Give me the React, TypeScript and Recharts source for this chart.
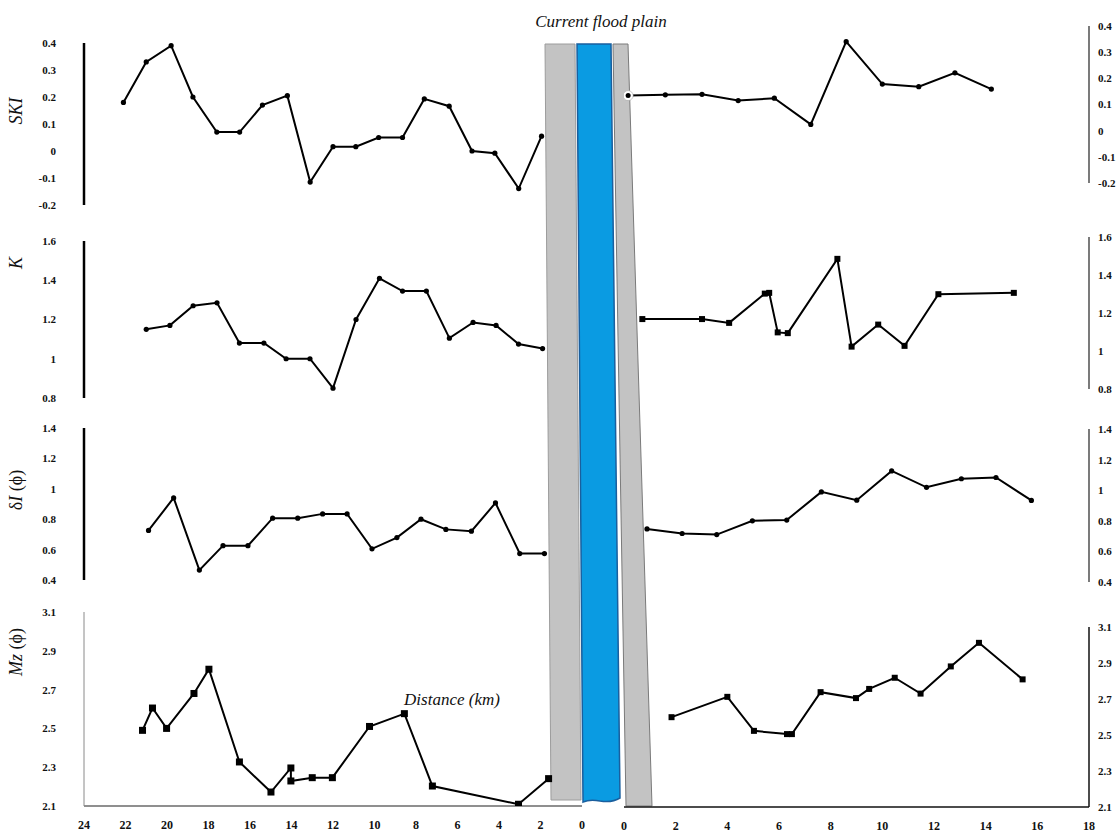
import React from 'react';
import { LineChart, Line, XAxis, YAxis } from 'recharts';

const W = 1118;
const H = 837;

// ---------- Data (distance from the river in km, value) ----------
// Left bank
const leftSkiKm = [22.1, 21.0, 19.8, 18.75, 17.6, 16.5, 15.4, 14.2, 13.1, 12.0, 10.9, 9.8, 8.65, 7.6, 6.4, 5.3, 4.2, 3.05, 1.95];
const leftSkiVal = [0.18, 0.33, 0.39, 0.2, 0.07, 0.07, 0.17, 0.205, -0.115, 0.016, 0.016, 0.05, 0.05, 0.193, 0.166, 0.0, -0.008, -0.139, 0.055];

const leftKKm = [21.0, 19.86, 18.74, 17.59, 16.51, 15.33, 14.26, 13.11, 12.0, 10.89, 9.76, 8.65, 7.5, 6.39, 5.25, 4.14, 3.06, 1.9];
const leftKVal = [1.15, 1.17, 1.27, 1.285, 1.08, 1.08, 1.0, 1.0, 0.85, 1.2, 1.41, 1.345, 1.345, 1.105, 1.185, 1.17, 1.075, 1.052];

const leftSortKm = [20.89, 19.68, 18.44, 17.3, 16.1, 14.91, 13.7, 12.5, 11.32, 10.12, 8.92, 7.76, 6.56, 5.33, 4.17, 3.0, 1.81];
const leftSortVal = [0.726, 0.94, 0.465, 0.626, 0.626, 0.807, 0.807, 0.835, 0.835, 0.605, 0.679, 0.8, 0.733, 0.721, 0.907, 0.574, 0.574];

const leftMzKm = [21.18, 20.7, 20.02, 18.7, 17.98, 16.51, 14.99, 14.03, 14.03, 13.0, 12.03, 10.24, 8.56, 7.21, 3.06, 1.61];
const leftMzVal = [2.49, 2.605, 2.5, 2.68, 2.805, 2.327, 2.172, 2.296, 2.229, 2.246, 2.246, 2.51, 2.576, 2.203, 2.109, 2.241];

// Right bank
const rightSkiKm = [0.16, 1.6, 3.02, 4.42, 5.82, 7.23, 8.6, 10.0, 11.41, 12.81, 14.22];
const rightSkiVal = [0.134, 0.137, 0.139, 0.115, 0.124, 0.024, 0.34, 0.178, 0.168, 0.221, 0.159];

const rightKKm = [0.71, 3.02, 4.07, 5.45, 5.62, 5.95, 6.34, 8.26, 8.81, 9.84, 10.86, 12.17, 15.09];
const rightKVal = [1.168, 1.168, 1.148, 1.302, 1.306, 1.098, 1.094, 1.485, 1.023, 1.139, 1.027, 1.299, 1.306];

const rightSortKm = [0.89, 2.25, 3.59, 4.97, 6.3, 7.64, 9.01, 10.36, 11.71, 13.06, 14.4, 15.77];
const rightSortVal = [0.747, 0.717, 0.71, 0.8, 0.805, 0.989, 0.935, 1.126, 1.019, 1.075, 1.083, 0.933];

const rightMzKm = [1.84, 4.0, 5.03, 6.31, 6.5, 7.61, 8.98, 9.49, 10.48, 11.48, 12.65, 13.74, 15.43];
const rightMzVal = [2.599, 2.712, 2.523, 2.505, 2.505, 2.738, 2.705, 2.756, 2.818, 2.73, 2.881, 3.012, 2.809];

// Tick labels
const leftDistanceTicks = [0, 2, 4, 6, 8, 10, 12, 14, 16, 18, 20, 22, 24];
const rightDistanceTicks = [0, 2, 4, 6, 8, 10, 12, 14, 16, 18];
const skiTicks = [-0.2, -0.1, 0, 0.1, 0.2, 0.3, 0.4];
const kTicks = [0.8, 1, 1.2, 1.4, 1.6];
const sortTicks = [0.4, 0.6, 0.8, 1, 1.2, 1.4];
const mzTicks = [2.1, 2.3, 2.5, 2.7, 2.9, 3.1];

const toRows = (km: number[], v: number[]) => km.map((x, i) => ({ x, y: v[i] }));

type Box = { left: number; right: number; top: number; bottom: number };

const SERIF = '"Liberation Serif", "Times New Roman", serif';
const tickStyle = { fontSize: 11, fontWeight: 700, fontFamily: SERIF, fill: '#111' };
const xTickStyle = { fontSize: 12, fontWeight: 700, fontFamily: SERIF, fill: '#111' };
const fmt = (v: number) => String(Math.round(v * 10) / 10);

const Y_W = 40;
const X_H = 30;

function Panel(props: {
  rows: { x: number; y: number }[];
  side: 'left' | 'right';
  box: Box;
  yDomain: [number, number];
  yTicks: number[];
  showX?: boolean;
  marker: 'circle' | 'square';
  markerSize?: number;
  axisColor: string;
  axisWidth: number;
  xAxisColor?: string;
  haloFirst?: boolean;
}) {
  const { rows, side, box, yDomain, yTicks, showX, marker, markerSize = 6, axisColor, axisWidth, xAxisColor = '#000', haloFirst } = props;
  const xDomain: [number, number] = side === 'left' ? [0, 24] : [0, 18];
  const xTicks = side === 'left' ? leftDistanceTicks : rightDistanceTicks;
  const renderDot = (p: any) => {
    const { cx, cy, index } = p;
    if (cx == null || cy == null) return <g key={`d${index}`} />;
    if (marker === 'square') {
      return <rect key={`d${index}`} x={cx - markerSize / 2} y={cy - markerSize / 2} width={markerSize} height={markerSize} fill="#000" />;
    }
    if (haloFirst && index === 0) {
      return (
        <g key={`d${index}`}>
          <circle cx={cx} cy={cy} r={5} fill="#fff" stroke="#999" strokeWidth={0.5} />
          <circle cx={cx} cy={cy} r={2.5} fill="#000" />
        </g>
      );
    }
    return <circle key={`d${index}`} cx={cx} cy={cy} r={2.6} fill="#000" />;
  };
  const margin = {
    top: box.top,
    bottom: H - box.bottom - (showX ? X_H : 0),
    left: side === 'left' ? box.left - Y_W : box.left,
    right: side === 'right' ? W - box.right - Y_W : W - box.right,
  };
  return (
    <div style={{ position: 'absolute', left: 0, top: 0 }}>
      <LineChart width={W} height={H} data={rows} margin={margin}>
        <XAxis
          type="number"
          dataKey="x"
          domain={xDomain}
          ticks={xTicks}
          interval={0}
          reversed={side === 'left'}
          hide={!showX}
          height={X_H}
          tickLine={false}
          tickMargin={8}
          axisLine={{ stroke: xAxisColor, strokeWidth: 1.5 }}
          tick={xTickStyle}
          allowDataOverflow
        />
        <YAxis
          type="number"
          domain={yDomain}
          ticks={yTicks}
          interval={0}
          orientation={side}
          width={Y_W}
          tickLine={false}
          tickMargin={side === 'left' ? 22 : 3}
          tickFormatter={fmt}
          axisLine={{ stroke: axisColor, strokeWidth: axisWidth }}
          tick={tickStyle}
          allowDataOverflow
        />
        <Line
          type="linear"
          dataKey="y"
          stroke="#000"
          strokeWidth={2}
          dot={renderDot}
          activeDot={false}
          isAnimationActive={false}
        />
      </LineChart>
    </div>
  );
}

const LEFT_X = 84;
const LEFT_END = 582;
const RIGHT_X = 624;
const RIGHT_END = 1089;

function River() {
  return (
    <svg width={W} height={H} style={{ position: 'absolute', left: 0, top: 0 }}>
      <polygon points="545,44 575,44 581,800 551,800" fill="#c3c3c3" stroke="#9c9c9c" strokeWidth={1} />
      <path
        d="M577,44 L611,44 L620,798 Q612,803 600,801 Q590,799 583,802 Z"
        fill="#0a9be2"
        stroke="#1a5f9e"
        strokeWidth={1.5}
      />
      <polygon points="613,44 628,44 652,806 626,806" fill="#c3c3c3" stroke="#7a7a7a" strokeWidth={1} />
    </svg>
  );
}

function Labels() {
  const t = { fontFamily: SERIF, fill: '#111' } as const;
  return (
    <svg width={W} height={H} style={{ position: 'absolute', left: 0, top: 0, pointerEvents: 'none' }}>
      <text x={601} y={27} textAnchor="middle" fontSize={17} fontStyle="italic" {...t}>Current flood plain</text>
      <text x={452} y={705} textAnchor="middle" fontSize={17} fontStyle="italic" {...t}>Distance (km)</text>
      <text x={22} y={111} textAnchor="middle" fontSize={18} fontStyle="italic" transform="rotate(-90 22 111)" {...t}>SKI</text>
      <text x={22} y={263} textAnchor="middle" fontSize={18} fontStyle="italic" transform="rotate(-90 22 263)" {...t}>K</text>
      <text x={22} y={490} textAnchor="middle" fontSize={18} transform="rotate(-90 22 490)" {...t}>
        δ<tspan fontStyle="italic">I</tspan> (ϕ)
      </text>
      <text x={22} y={652} textAnchor="middle" fontSize={18} transform="rotate(-90 22 652)" {...t}>
        <tspan fontStyle="italic">Mz</tspan> (ϕ)
      </text>
    </svg>
  );
}

export default function App() {
  return (
    <div style={{ position: 'absolute', left: 0, top: 0, width: W, height: H, background: '#fff', overflow: 'hidden' }}>
      <River />
      <Panel rows={toRows(leftSkiKm, leftSkiVal)} side="left" box={{ left: LEFT_X, right: LEFT_END, top: 43, bottom: 205 }}
        yDomain={[-0.2, 0.4]} yTicks={skiTicks} marker="circle" axisColor="#000" axisWidth={2.5} />
      <Panel rows={toRows(leftKKm, leftKVal)} side="left" box={{ left: LEFT_X, right: LEFT_END, top: 241, bottom: 398 }}
        yDomain={[0.8, 1.6]} yTicks={kTicks} marker="circle" axisColor="#000" axisWidth={2.5} />
      <Panel rows={toRows(leftSortKm, leftSortVal)} side="left" box={{ left: LEFT_X, right: LEFT_END, top: 428, bottom: 580 }}
        yDomain={[0.4, 1.4]} yTicks={sortTicks} marker="circle" axisColor="#000" axisWidth={2.5} />
      <Panel rows={toRows(leftMzKm, leftMzVal)} side="left" box={{ left: LEFT_X, right: LEFT_END, top: 612, bottom: 806 }}
        yDomain={[2.1, 3.1]} yTicks={mzTicks} marker="square" markerSize={7} axisColor="#8a8a8a" axisWidth={1}
        showX xAxisColor="#6a6a6a" />
      <Panel rows={toRows(rightSkiKm, rightSkiVal)} side="right" box={{ left: RIGHT_X, right: RIGHT_END, top: 26, bottom: 183 }}
        yDomain={[-0.2, 0.4]} yTicks={skiTicks} marker="circle" axisColor="#222" axisWidth={1.2} haloFirst />
      <Panel rows={toRows(rightKKm, rightKVal)} side="right" box={{ left: RIGHT_X, right: RIGHT_END, top: 237, bottom: 389 }}
        yDomain={[0.8, 1.6]} yTicks={kTicks} marker="square" markerSize={6} axisColor="#222" axisWidth={1.2} />
      <Panel rows={toRows(rightSortKm, rightSortVal)} side="right" box={{ left: RIGHT_X, right: RIGHT_END, top: 429, bottom: 582 }}
        yDomain={[0.4, 1.4]} yTicks={sortTicks} marker="circle" axisColor="#222" axisWidth={1.2} />
      <Panel rows={toRows(rightMzKm, rightMzVal)} side="right" box={{ left: RIGHT_X, right: RIGHT_END, top: 627, bottom: 807 }}
        yDomain={[2.1, 3.1]} yTicks={mzTicks} marker="square" markerSize={6} axisColor="#111" axisWidth={1.5}
        showX xAxisColor="#111" />
      <Labels />
    </div>
  );
}
